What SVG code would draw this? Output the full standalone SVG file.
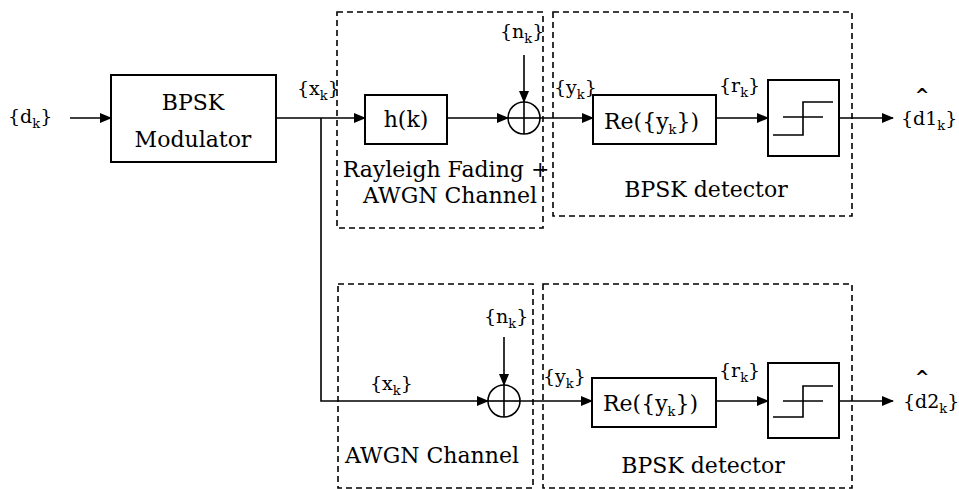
<svg xmlns="http://www.w3.org/2000/svg" width="959" height="489" viewBox="0 0 959 489">
<style>
.box{fill:#fff;stroke:#000;stroke-width:2}
.dash{fill:none;stroke:#000;stroke-width:1.6;stroke-dasharray:6 4}
.ln{fill:none;stroke:#000;stroke-width:1.6}
.t{font-family:"DejaVu Serif",serif;font-size:22px;fill:#000}
.l{font-family:"DejaVu Serif",serif;font-size:19px;fill:#000}
.s{font-size:13px}
.hat{font-family:"DejaVu Sans",sans-serif;font-size:17px;font-weight:bold;fill:#000}
</style>
<defs>
<marker id="ar" markerWidth="12" markerHeight="10" refX="11" refY="5" orient="auto" markerUnits="userSpaceOnUse">
<path d="M0,0 L12,5 L0,10 Z" fill="#000"/>
</marker>
</defs>
<rect width="959" height="489" fill="#fff"/>

<g id="channel1-frame"><rect class="dash" x="337" y="12" width="206" height="216"/></g>
<g id="detector1-frame"><rect class="dash" x="553" y="12" width="299" height="204"/></g>
<g id="channel2-frame"><rect class="dash" x="338" y="284" width="195" height="204"/></g>
<g id="detector2-frame"><rect class="dash" x="543" y="284" width="309" height="204"/></g>

<g id="connectors">
<line class="ln" x1="70" y1="118" x2="111" y2="118" marker-end="url(#ar)"/>
<line class="ln" x1="276" y1="118" x2="365" y2="118" marker-end="url(#ar)"/>
<line class="ln" x1="447" y1="118" x2="508" y2="118" marker-end="url(#ar)"/>
<line class="ln" x1="524" y1="55" x2="524" y2="102" marker-end="url(#ar)"/>
<line class="ln" x1="540" y1="118" x2="593" y2="118" marker-end="url(#ar)"/>
<line class="ln" x1="716" y1="118" x2="768" y2="118" marker-end="url(#ar)"/>
<line class="ln" x1="839" y1="118" x2="893" y2="118" marker-end="url(#ar)"/>
<polyline class="ln" points="321,118 321,401 488,401" marker-end="url(#ar)"/>
<line class="ln" x1="504" y1="337" x2="504" y2="385" marker-end="url(#ar)"/>
<line class="ln" x1="520" y1="401" x2="592" y2="401" marker-end="url(#ar)"/>
<line class="ln" x1="716" y1="401" x2="768" y2="401" marker-end="url(#ar)"/>
<line class="ln" x1="839" y1="401" x2="893" y2="401" marker-end="url(#ar)"/>
</g>

<g id="modulator">
<rect class="box" x="111" y="75" width="165" height="87"/>
<text class="t" x="193" y="110" text-anchor="middle" font-size="23">BPSK</text>
<text class="t" x="193" y="147" text-anchor="middle" font-size="23">Modulator</text>
</g>

<g id="hk">
<rect class="box" x="365" y="95" width="82" height="49"/>
<text class="t" x="406" y="127" text-anchor="middle">h(k)</text>
</g>

<g id="sum1">
<circle class="ln" cx="524" cy="118" r="16" fill="#fff"/>
<line class="ln" x1="508" y1="118" x2="540" y2="118"/>
<line class="ln" x1="524" y1="102" x2="524" y2="134"/>
</g>

<g id="re1">
<rect class="box" x="593" y="95" width="123" height="49"/>
<text class="t" x="604" y="129">Re({y<tspan class="s" dy="5">k</tspan><tspan dy="-5">})</tspan></text>
</g>

<g id="dec1">
<rect class="box" x="768" y="80" width="71" height="76"/>
<polyline class="ln" points="773,135 803,135 803,102 833,102"/>
<line class="ln" x1="783" y1="117" x2="823" y2="117"/>
</g>

<g id="sum2">
<circle class="ln" cx="504" cy="401" r="16" fill="#fff"/>
<line class="ln" x1="488" y1="401" x2="520" y2="401"/>
<line class="ln" x1="504" y1="385" x2="504" y2="417"/>
</g>

<g id="re2">
<rect class="box" x="592" y="378" width="124" height="49"/>
<text class="t" x="603" y="411">Re({y<tspan class="s" dy="5">k</tspan><tspan dy="-5">})</tspan></text>
</g>

<g id="dec2">
<rect class="box" x="768" y="363" width="71" height="75"/>
<polyline class="ln" points="773,417 803,417 803,386 833,386"/>
<line class="ln" x1="783" y1="401" x2="823" y2="401"/>
</g>

<g id="labels">
<text class="l" x="8" y="123">{d<tspan class="s" dy="5">k</tspan><tspan dy="-5">}</tspan></text>
<text class="l" x="297" y="95">{x<tspan class="s" dy="5">k</tspan><tspan dy="-5">}</tspan></text>
<text class="l" x="500" y="38">{n<tspan class="s" dy="5">k</tspan><tspan dy="-5">}</tspan></text>
<text class="l" x="554" y="94">{y<tspan class="s" dy="5">k</tspan><tspan dy="-5">}</tspan></text>
<text class="l" x="719" y="92">{r<tspan class="s" dy="5">k</tspan><tspan dy="-5">}</tspan></text>
<text class="l" x="901" y="125">{d1<tspan class="s" dy="5">k</tspan><tspan dy="-5">}</tspan></text>
<text class="hat" x="922" y="101" text-anchor="middle">^</text>
<text class="t" x="446" y="177" text-anchor="middle">Rayleigh Fading +</text>
<text class="t" x="450" y="203" text-anchor="middle">AWGN Channel</text>
<text class="t" x="706" y="197" text-anchor="middle">BPSK detector</text>

<text class="l" x="484" y="323">{n<tspan class="s" dy="5">k</tspan><tspan dy="-5">}</tspan></text>
<text class="l" x="370" y="390">{x<tspan class="s" dy="5">k</tspan><tspan dy="-5">}</tspan></text>
<text class="l" x="543" y="383">{y<tspan class="s" dy="5">k</tspan><tspan dy="-5">}</tspan></text>
<text class="l" x="719" y="377">{r<tspan class="s" dy="5">k</tspan><tspan dy="-5">}</tspan></text>
<text class="l" x="903" y="408">{d2<tspan class="s" dy="5">k</tspan><tspan dy="-5">}</tspan></text>
<text class="hat" x="922" y="383" text-anchor="middle">^</text>
<text class="t" x="432" y="463" text-anchor="middle">AWGN Channel</text>
<text class="t" x="703" y="473" text-anchor="middle">BPSK detector</text>
</g>
</svg>
